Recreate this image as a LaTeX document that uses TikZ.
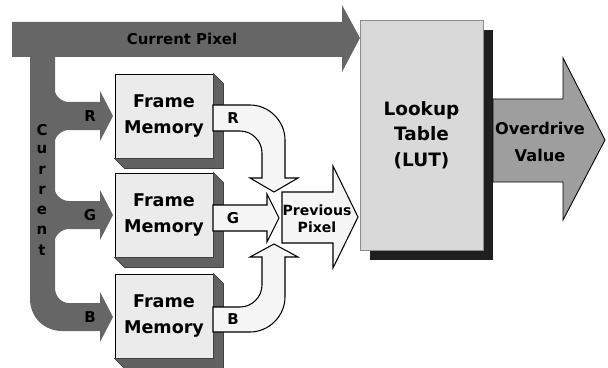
\documentclass[tikz,border=0pt]{standalone}
\usepackage{fontspec}
\setmainfont{DejaVu Sans}

\begin{document}
\begin{tikzpicture}[x=0.02cm,y=-0.02cm]
			\tikzset{every node/.style={font=\bfseries\fontsize{8.5}{10}\selectfont, inner sep=0pt},
  darkarrow/.style={fill=black!60},
  outarrow/.style={draw, fill=black!4, line width=0.6pt},
  fmbox/.style={draw, fill=black!8, line width=0.5pt, minimum width=1.96cm, minimum height=1.68cm, align=center, font=\bfseries\fontsize{10}{15.3}\selectfont},
  fmshade/.style={fill=black!62, draw=black!75, line width=0.4pt}}
\useasboundingbox (0,0) rectangle (608,368);

\fill[darkarrow] (12,22) -- (342,22) -- (342,5) -- (360,38) -- (342,72) -- (342,57) -- (12,57) -- cycle;
\fill[darkarrow] (30,56) -- (30,299) .. controls (30,317) and (44,331) .. (62,331) -- (100,331) -- (100,342) -- (113,317) -- (100,292) -- (100,303) -- (69,303) .. controls (61,303) and (55,296) .. (55,288) -- (55,56) -- cycle;
\foreach \c in {116,215}
{
	\fill[darkarrow] (54,\c-29) .. controls (54,\c-21) and (61,\c-14) .. (69,\c-14) -- (100,\c-14) -- (100,\c-25) -- (113,\c) -- (100,\c+25) -- (100,\c+14) -- (69,\c+14) .. controls (61,\c+14) and (54,\c+21) .. (54,\c+29) -- cycle;
}
\node (cp) at (182,39) {Current Pixel};
\foreach \l [count=\i] in {C,u,r,r,e,n,t}
	\node (cur\i) at (42,110+20*\i) {\l};
\foreach \c/\l in {116/R,215/G,317/B}
	\node (in\l) at (90,\c) {\l};

\fill[black!88] (370,30) rectangle (493,260);
\node[draw=black!45, fill=black!15, minimum width=2.46cm, minimum height=4.6cm, align=center, font=\bfseries\fontsize{10.5}{14.5}\selectfont] (lut) at (421.5,135) {Lookup\\Table\\(LUT)};

\foreach \n/\c in {1/116,2/215,3/316}
	\node[fmbox] (fm\n) at (164,\c) {Frame\\Memory};
\foreach \f in {fm1,fm2,fm3}
{
	\filldraw[fmshade] (\f.north east) -- ++(10,10) -- ([shift={(10,10)}]\f.south east) -- ([shift={(10,10)}]\f.south west) -- (\f.south west) -- (\f.south east) -- cycle;
}

\draw[outarrow] (213,105) -- (250,105) .. controls (269,105) and (285,121) .. (285,140) -- (285,178) -- (298,178) -- (274,192) -- (250,178) -- (262,178) -- (262,153) .. controls (262,141) and (252,131) .. (240,131) -- (213,131) -- cycle;
\draw[outarrow] (213,205) -- (267,205) -- (267,194) -- (279,218) -- (267,242) -- (267,231) -- (213,231) -- cycle;
\draw[outarrow] (213,332) -- (250,332) .. controls (269,332) and (285,316) .. (285,297) -- (285,257) -- (298,257) -- (274,244) -- (250,257) -- (262,257) -- (262,285) .. controls (262,297) and (252,307) .. (240,307) -- (213,307) -- cycle;
\foreach \c/\l in {118/R,218/G,319/B}
	\node (out\l) at (233,\c) {\l};

\draw[outarrow] (282,192) -- (333,192) -- (333,166) -- (358,217) -- (333,268) -- (333,243) -- (282,243) -- cycle;
\node[align=center, font=\bfseries\fontsize{8}{9.6}\selectfont] (prev) at (317,219) {Previous\\Pixel};

\draw[fill=black!38, line width=0.5pt] (493,99) -- (563,99) -- (563,58) -- (605,140) -- (563,220) -- (563,182) -- (493,182) -- cycle;
\node[align=center, font=\bfseries\fontsize{9.2}{15.3}\selectfont] (od) at (540,142) {Overdrive\\Value};

		\end{tikzpicture}
\end{document}
